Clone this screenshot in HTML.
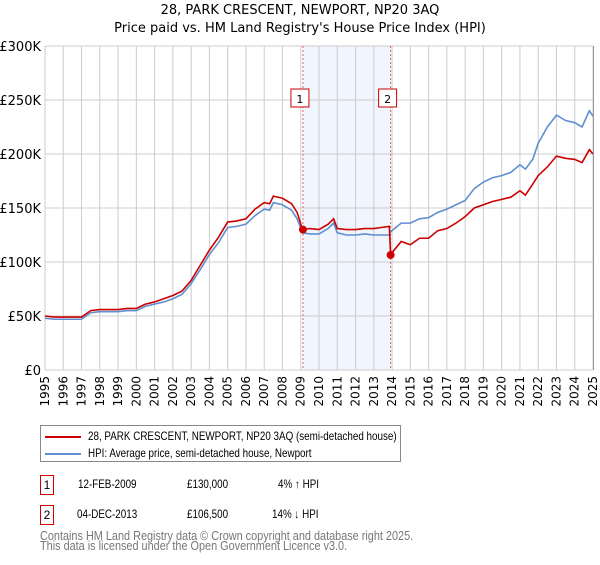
<!DOCTYPE html>
<html><head><meta charset="utf-8"><style>
body{margin:0;background:#fff;font-family:"Liberation Sans","DejaVu Sans",sans-serif;}
svg text{font-family:"DejaVu Sans","Liberation Sans",sans-serif;}
.sq{display:inline-block;transform:scaleX(0.82);transform-origin:left center;white-space:nowrap;}
.sa{display:inline-block;transform:scaleX(0.87);transform-origin:left center;white-space:nowrap;}
.ab{position:absolute;white-space:nowrap;}
</style></head><body>
<svg id="c" width="600" height="560" xmlns="http://www.w3.org/2000/svg"></svg>
<script>
const years=[1995,1995.5,1996,1996.5,1997,1997.5,1998,1998.5,1999,1999.5,2000,2000.5,2001,2001.5,2002,2002.5,2003,2003.5,2004,2004.5,2005,2005.5,2006,2006.5,2007,2007.3,2007.5,2008,2008.5,2008.8,2009.1,2009.5,2010,2010.5,2010.8,2011,2011.5,2012,2012.5,2013,2013.85,2013.92,2014.5,2015,2015.5,2016,2016.5,2017,2017.5,2018,2018.5,2019,2019.5,2020,2020.5,2021,2021.3,2021.7,2022,2022.5,2023,2023.5,2024,2024.4,2024.8,2025];
const hpiValues=[48,47,47,47,47,53,54,54,54,55,55,59,61,63,66,70,80,93,107,118,132,133,135,143,149,148,155,153,148,140,127,126,126,131,136,127,125,125,126,125,125,128,136,136,140,141,146,149,153,157,168,174,178,180,183,190,186,195,210,225,236,231,229,225,240,235];
const priceValues=[50,49,49,49,49,55,56,56,56,57,57,61,63,66,69,73,83,97,111,123,137,138,140,149,155,154,161,159,154,146,130,131,130,135,140,131,130,130,131,131,133,107,119,116,122,122,129,131,136,142,150,153,156,158,160,166,162,172,180,188,198,196,195,192,204,200];
const yTicks=[0,50,100,150,200,250,300];
const yTickLabels=["£0","£50K","£100K","£150K","£200K","£250K","£300K"];
const sales=[{t:2009.12,v:130,label:"1"},{t:2013.92,v:106.5,label:"2"}];
const NS="http://www.w3.org/2000/svg",svg=document.getElementById('c');
const L=45,R=593,T=46,B=370;
const x=t=>L+(t-1995)/30*(R-L), y=v=>B-v/300*(B-T);
function el(tag,a,p){const e=document.createElementNS(NS,tag);for(const k in a)e.setAttribute(k,a[k]);(p||svg).appendChild(e);return e;}
let t1=el('text',{x:300,y:14,'text-anchor':'middle','font-size':13,fill:'#000'});t1.textContent="28, PARK CRESCENT, NEWPORT, NP20 3AQ";

let t2=el('text',{x:300,y:32,'text-anchor':'middle','font-size':13,fill:'#000'});t2.textContent="Price paid vs. HM Land Registry's House Price Index (HPI)";

let sh=el('rect',{x:x(sales[0].t),y:T,width:x(sales[1].t)-x(sales[0].t),height:B-T,fill:'#eef3fd',opacity:0.8});

for(let yr=1995;yr<=2025;yr++){let g=el('line',{x1:x(yr),x2:x(yr),y1:T,y2:B,stroke:'#ccc','stroke-width':1});

let tx=el('text',{transform:`translate(${x(yr)+4},${B+6}) rotate(-90)`,'text-anchor':'end','font-size':12,fill:'#000'});tx.textContent=yr;
}
yTicks.forEach((v,i)=>{let g=el('line',{x1:L,x2:R,y1:y(v),y2:y(v),stroke:'#ccc','stroke-width':1});

let tx=el('text',{x:L-4,y:y(v)+5,'text-anchor':'end','font-size':13,fill:'#000'});tx.textContent=yTickLabels[i];
});
sales.forEach(s=>{let d=el('line',{x1:x(s.t),x2:x(s.t),y1:T,y2:B,stroke:'#e06060','stroke-width':1,'stroke-dasharray':'2,2'});

let b=el('rect',{x:x(s.t)-12,y:89,width:18,height:18,fill:'#fff',stroke:'#c00','stroke-width':1});

let tx=el('text',{x:x(s.t)-3,y:103,'text-anchor':'middle','font-size':11,fill:'#000'});tx.textContent=s.label;
});
let hp=el('polyline',{points:years.map((t,i)=>x(t)+','+y(hpiValues[i])).join(' '),fill:'none',stroke:'#5f8fd0','stroke-width':1.6});

let pp=el('polyline',{points:years.map((t,i)=>x(t)+','+y(priceValues[i])).join(' '),fill:'none',stroke:'#cc0000','stroke-width':1.6});

sales.forEach(s=>{let c=el('circle',{cx:x(s.t),cy:y(s.v),r:4,fill:'#cc0000'});
});
let ax=el('rect',{x:R,y:T,width:1,height:B-T,fill:'#999'});
</script>
<div style="position:absolute;left:40px;top:425px;width:359px;height:35px;border:1px solid #888;font-size:12px;">
<div style="position:absolute;left:4px;top:3px;white-space:nowrap"><span style="display:inline-block;width:36px;height:2px;background:#cc0000;vertical-align:middle;margin-right:7px"></span><span class="sq">28, PARK CRESCENT, NEWPORT, NP20 3AQ (semi-detached house)</span></div>
<div style="position:absolute;left:4px;top:20px;white-space:nowrap"><span style="display:inline-block;width:36px;height:2px;background:#5f8fd0;vertical-align:middle;margin-right:7px"></span><span class="sq">HPI: Average price, semi-detached house, Newport</span></div>
</div>
<div style="position:absolute;left:0;top:0;font-size:12px;">
<div>
<span class="ab" style="left:40px;top:475px;width:10px;height:18px;border:1px solid #c00;text-align:center;line-height:18px;padding:0 1px">1</span>
<span class="ab" style="left:78px;top:477px"><span class="sq">12-FEB-2009</span></span>
<span class="ab" style="left:187px;top:477px"><span class="sq">£130,000</span></span>
<span class="ab" style="left:278px;top:477px"><span class="sq">4% ↑ HPI</span></span></div>
<div>
<span class="ab" style="left:40px;top:505px;width:10px;height:18px;border:1px solid #c00;text-align:center;line-height:18px;padding:0 1px">2</span>
<span class="ab" style="left:77px;top:507px"><span class="sq">04-DEC-2013</span></span>
<span class="ab" style="left:187px;top:507px"><span class="sq">£106,500</span></span>
<span class="ab" style="left:272px;top:507px"><span class="sq">14% ↓ HPI</span></span></div>
</div>
<div style="position:absolute;left:40px;top:531px;font-size:12.5px;color:#777;line-height:10px;white-space:nowrap"><span class="sa">Contains HM Land Registry data © Crown copyright and database right 2025.</span><br><span class="sa">This data is licensed under the Open Government Licence v3.0.</span></div>
</body></html>
